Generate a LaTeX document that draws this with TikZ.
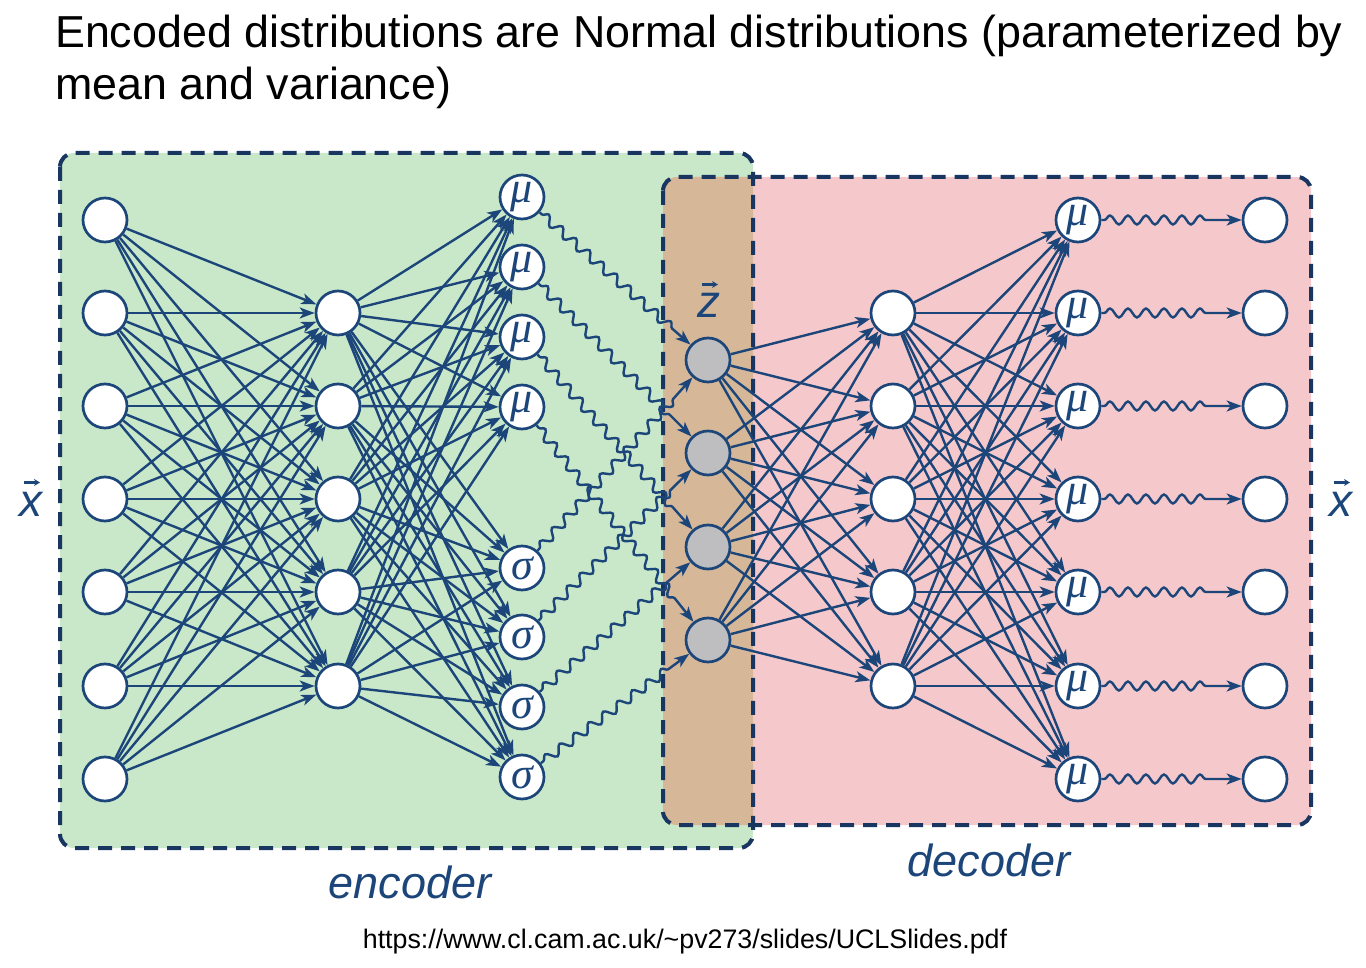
\documentclass[tikz,border=0pt]{standalone}
\usepackage{fontspec}
\setmainfont{Liberation Sans}
\newfontfamily\greekserif{Liberation Serif}
\usetikzlibrary{arrows.meta,decorations.pathmorphing}
\definecolor{lineblue}{RGB}{28,70,122}
\definecolor{boxblue}{RGB}{24,54,96}
\definecolor{encgreen}{RGB}{201,232,201}
\definecolor{decpink}{RGB}{245,201,203}
\definecolor{overlapc}{RGB}{214,184,152}
\definecolor{zgray}{RGB}{190,190,192}
\pgfdeclarelayer{boxes}
\pgfdeclarelayer{edges}
\pgfsetlayers{boxes,edges,main}
\begin{document}
\begin{tikzpicture}[x=1pt,y=-1pt,
  neuron/.style={circle, draw=lineblue, line width=2.7pt, fill=white, minimum size=44pt, inner sep=0pt, text=lineblue, font=\fontsize{44}{44}\selectfont\greekserif\itshape},
  latent/.style={neuron, fill=zgray},
  conn/.style={draw=lineblue, line width=2.4pt, -{Stealth[length=15pt,width=11pt,inset=4pt]}},
  wavy/.style={conn, decorate, decoration={snake, amplitude=4.5pt, segment length=18pt, pre length=3pt, post length=24pt}},
  boxdash/.style={draw=boxblue, line width=4pt, dash pattern=on 14pt off 9pt, rounded corners=14pt},
  lbl/.style={text=lineblue, font=\fontsize{45}{45}\selectfont\itshape, anchor=base},
  vlbl/.style={text=lineblue, font=\fontsize{46}{46}\selectfont\itshape, anchor=base, inner sep=0pt},
  vecarrow/.style={draw=lineblue, line width=2.4pt, -{Stealth[length=6pt,width=7pt]}}
]
\useasboundingbox (0,0) rectangle (1366,968);

% titles
\node[anchor=base west, inner sep=0pt, font=\fontsize{44.8}{44.8}\selectfont] (title1) at (55,48) {Encoded distributions are Normal distributions (parameterized by};
\node[anchor=base west, inner sep=0pt, font=\fontsize{44.8}{44.8}\selectfont] (title2) at (55,100) {mean and variance)};

% boxes
\begin{pgfonlayer}{boxes}
\fill[encgreen, rounded corners=14pt] (60,153) rectangle (753,848);
\fill[decpink, rounded corners=14pt] (663,177) rectangle (1311,825);
\begin{scope}
\clip[rounded corners=14pt] (60,153) rectangle (753,848);
\fill[overlapc, rounded corners=14pt] (663,177) rectangle (1311,825);
\end{scope}
\draw[boxdash] (60,153) rectangle (753,848);
\draw[boxdash] (663,177) rectangle (1311,825);
\end{pgfonlayer}

% nodes
\foreach \y [count=\i] in {220,313,406,499,592,686,779}
  \node[neuron] (in\i) at (105,\y) {};
\foreach \y [count=\i] in {313,406,499,592,686}
  \node[neuron] (h\i) at (338,\y) {};
\foreach \y [count=\i] in {197,267,337,407}
  \node[neuron] (p\i) at (522,\y) {μ};
\foreach \y [count=\i from 5] in {568,637,707,777}
  \node[neuron] (p\i) at (522,\y) {σ};
\foreach \y [count=\i] in {360,453,547,640}
  \node[latent] (z\i) at (708,\y) {};
\foreach \y [count=\i] in {313,406,499,592,686}
  \node[neuron] (d\i) at (893,\y) {};
\foreach \y [count=\i] in {220,313,406,499,592,686,779}
  \node[neuron] (q\i) at (1078,\y) {μ};
\foreach \y [count=\i] in {220,313,406,499,592,686,779}
  \node[neuron] (o\i) at (1265,\y) {};

% edges
\begin{pgfonlayer}{edges}
\foreach \a in {1,...,7}
  \foreach \b in {1,...,5}
    \draw[conn] (in\a) -- (h\b);
\foreach \a in {1,...,5}
  \foreach \b in {1,...,8}
    \draw[conn] (h\a) -- (p\b);
\foreach \a in {1,...,4}
  \foreach \b in {1,...,5}
    \draw[conn] (z\a) -- (d\b);
\foreach \a in {1,...,5}
  \foreach \b in {1,...,7}
    \draw[conn] (d\a) -- (q\b);
\foreach \a in {1,...,4}{
  \pgfmathtruncatemacro{\s}{\a+4}
  \draw[wavy] (p\a) -- (z\a);
  \draw[wavy] (p\s) -- (z\a);
}
\foreach \a in {1,...,7}
  \draw[wavy, decoration={snake, amplitude=4.5pt, segment length=18pt, pre length=3pt, post length=28pt}] (q\a) -- (o\a);
\end{pgfonlayer}

% labels
\node[vlbl] (xin) at (31,516) {x};
\draw[vecarrow] ([xshift=-7pt,yshift=9pt]xin.north) -- ([xshift=9pt,yshift=9pt]xin.north);
\node[vlbl] (xout) at (1341,516) {x};
\draw[vecarrow] ([xshift=-7pt,yshift=9pt]xout.north) -- ([xshift=9pt,yshift=9pt]xout.north);
\node[vlbl] (zlab) at (709,318) {z};
\draw[vecarrow] ([xshift=-7pt,yshift=9pt]zlab.north) -- ([xshift=9pt,yshift=9pt]zlab.north);
\node[lbl] (enc) at (410,898) {encoder};
\node[lbl] (dec) at (989,876) {decoder};
\node[anchor=base, font=\fontsize{26.8}{26.8}\selectfont] (url) at (685,948) {https://www.cl.cam.ac.uk/\textasciitilde pv273/slides/UCLSlides.pdf};
\end{tikzpicture}
\end{document}
